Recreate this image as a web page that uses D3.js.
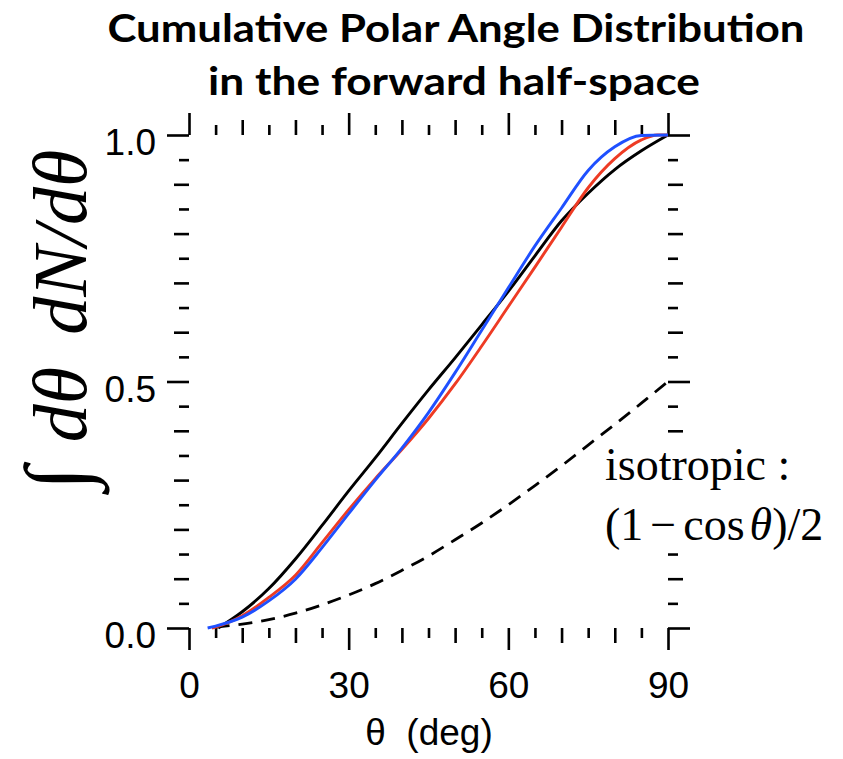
<!DOCTYPE html>
<html>
<head>
<meta charset="utf-8">
<script src="https://cdn.jsdelivr.net/npm/d3@7"></script>
<style>
  body { margin: 0; background: #fff; }
  svg { display: block; }
</style>
</head>
<body>
<div id="chart"></div>
<script>
// data (theta in degrees, cumulative fraction)
var thetaBlack = [5.5, 10, 15, 20, 25, 30, 35, 40, 45, 50, 55, 60, 65, 70, 75, 80, 85, 90];
var valBlack   = [0, 0.033, 0.08, 0.14, 0.208, 0.278, 0.345, 0.415, 0.483, 0.548, 0.615, 0.683, 0.755, 0.826, 0.882, 0.93, 0.968, 1.0];

var thetaRed = [4.3, 5, 10, 15, 20, 25, 30, 35, 40, 45, 50, 55, 60, 65, 70, 75, 80, 85, 88, 90];
var valRed   = [0, 0.002, 0.025, 0.062, 0.107, 0.173, 0.24, 0.303, 0.362, 0.425, 0.495, 0.572, 0.652, 0.732, 0.813, 0.893, 0.952, 0.99, 1.0, 1.0];

var thetaBlue = [3.5, 5, 10, 15, 20, 25, 30, 35, 40, 45, 50, 55, 60, 65, 70, 75, 80, 85, 90];
var valBlue   = [0, 0.004, 0.022, 0.055, 0.099, 0.163, 0.232, 0.30, 0.365, 0.437, 0.518, 0.604, 0.69, 0.775, 0.852, 0.928, 0.976, 0.999, 1.0];

var thetaIso = [5, 10, 15, 20, 25, 30, 35, 40, 45, 50, 55, 60, 65, 70, 75, 80, 85, 90];
var valIso   = [0.002, 0.008, 0.017, 0.030, 0.047, 0.067, 0.090, 0.117, 0.146, 0.179, 0.213, 0.25, 0.289, 0.329, 0.371, 0.413, 0.456, 0.5];

var xTickLabels = [0, 30, 60, 90];
var yTickLabels = [0, 0.5, 1.0];

var svgWidth = 843;
var svgHeight = 759;

var svg = d3.select("#chart").append("svg")
  .attr("width", svgWidth)
  .attr("height", svgHeight);

var x = d3.scaleLinear().domain([0, 90]).range([189, 668]);
var y = d3.scaleLinear().domain([0, 1]).range([628, 135]);

// tick sets: every 5 deg / 0.05, medium every 10 / 0.1, major every 30 / 0.5
var xAll = d3.range(0, 91, 5);
var xMinor = xAll.filter(d => d % 10 != 0);
var xMed = xAll.filter(d => d % 10 == 0 && d % 30 != 0);
var yAll = d3.range(0, 21).map(i => i / 20);
var yMinor = yAll.filter((d, i) => i % 2 != 0);
var yMed = yAll.filter((d, i) => i % 2 == 0 && i % 10 != 0);

function addAxis(axisFn, scale, vals, size, pos) {
  var ax = axisFn(scale).tickValues(vals).tickSize(size).tickSizeOuter(0).tickFormat("");
  var g = svg.append("g").attr("transform", pos).call(ax);
  g.select(".domain").remove();
  g.selectAll(".tick line").attr("stroke", "#000").attr("stroke-width", 2.6);
  return g;
}

var sides = [
  [d3.axisBottom, x, "translate(0,628)", xMinor, xMed, xTickLabels],
  [d3.axisTop, x, "translate(0,135)", xMinor, xMed, xTickLabels],
  [d3.axisLeft, y, "translate(189,0)", yMinor, yMed, yTickLabels],
  [d3.axisRight, y, "translate(668,0)", yMinor, yMed, yTickLabels]
];
sides.forEach(function(s) {
  addAxis(s[0], s[1], s[3], 10, s[2]);
  addAxis(s[0], s[1], s[4], 15, s[2]);
  addAxis(s[0], s[1], s[5], 22, s[2]);
});

// tick labels
var bottomLab = svg.append("g").attr("transform", "translate(0,628)")
  .call(d3.axisBottom(x).tickValues(xTickLabels).tickSize(0).tickPadding(70).tickFormat(d3.format("d")));
bottomLab.select(".domain").remove();
bottomLab.selectAll("text").attr("dy", null)
  .attr("font-family", "'Liberation Sans', Arial, sans-serif").attr("font-size", 37).attr("fill", "#000");

var leftLab = svg.append("g").attr("transform", "translate(189,0)")
  .call(d3.axisLeft(y).tickValues(yTickLabels).tickSize(0).tickPadding(33).tickFormat(d3.format(".1f")));
leftLab.select(".domain").remove();
leftLab.selectAll("text").attr("dy", "0.53em")
  .attr("font-family", "'Liberation Sans', Arial, sans-serif").attr("font-size", 37).attr("fill", "#000");

// curves
function series(th, v) { return th.map((t, i) => [t, v[i]]); }
var line = d3.line().x(d => x(d[0])).y(d => y(d[1])).curve(d3.curveMonotoneX);

svg.append("path").datum(series(thetaIso, valIso))
  .attr("d", line).attr("fill", "none").attr("stroke", "#000")
  .attr("stroke-width", 2.8).attr("stroke-dasharray", "14,9");

[[thetaBlack, valBlack, "#000000"], [thetaRed, valRed, "#ee3b24"], [thetaBlue, valBlue, "#1f50ff"]]
  .forEach(function(c) {
    svg.append("path").datum(series(c[0], c[1]))
      .attr("d", line).attr("fill", "none").attr("stroke", c[2]).attr("stroke-width", 2.9);
  });

// title
var title = svg.append("g")
  .attr("font-family", "Lato, 'Open Sans', sans-serif").attr("font-weight", "bold")
  .attr("font-size", 39).attr("text-anchor", "middle").attr("fill", "#000");
title.append("text").attr("x", 456).attr("y", 42)
  .attr("textLength", 697).attr("lengthAdjust", "spacingAndGlyphs")
  .text("Cumulative Polar Angle Distribution");
title.append("text").attr("x", 454).attr("y", 95)
  .attr("textLength", 492).attr("lengthAdjust", "spacingAndGlyphs")
  .text("in the forward half-space");

// x axis title
svg.append("text").attr("x", 429).attr("y", 745).attr("text-anchor", "middle")
  .attr("font-family", "'Liberation Sans', Arial, sans-serif").attr("font-size", 37)
  .attr("xml:space", "preserve")
  .text("\u03b8  (deg)");

// y axis title
var yt = svg.append("text")
  .attr("transform", "translate(86,320) rotate(-90)")
  .attr("text-anchor", "middle")
  .attr("font-family", "'Liberation Serif', 'Times New Roman', serif")
  .attr("font-size", 76).attr("fill", "#000");
yt.append("tspan").attr("font-size", 88).text("\u222b");
yt.append("tspan").attr("font-style", "italic").attr("dx", 24).text("d\u03b8");
yt.append("tspan").attr("font-style", "italic").attr("dx", 32).text("dN/d\u03b8");

// isotropic note, on a white box that hides the right ticks behind it
svg.append("rect").attr("x", 600).attr("y", 442).attr("width", 240).attr("height", 108).attr("fill", "#fff");
var iso = svg.append("g")
  .attr("font-family", "'Liberation Serif', 'Times New Roman', serif")
  .attr("font-size", 46).attr("fill", "#000");
iso.append("text").attr("x", 605).attr("y", 480).text("isotropic :");
var iso2 = iso.append("text").attr("x", 605).attr("y", 540);
iso2.append("tspan").text("(1");
iso2.append("tspan").attr("dx", 7).text("\u2212");
iso2.append("tspan").attr("dx", 7).text("cos");
iso2.append("tspan").attr("dx", 5).attr("font-style", "italic").text("\u03b8");
iso2.append("tspan").text(")/2");
</script>
</body>
</html>
